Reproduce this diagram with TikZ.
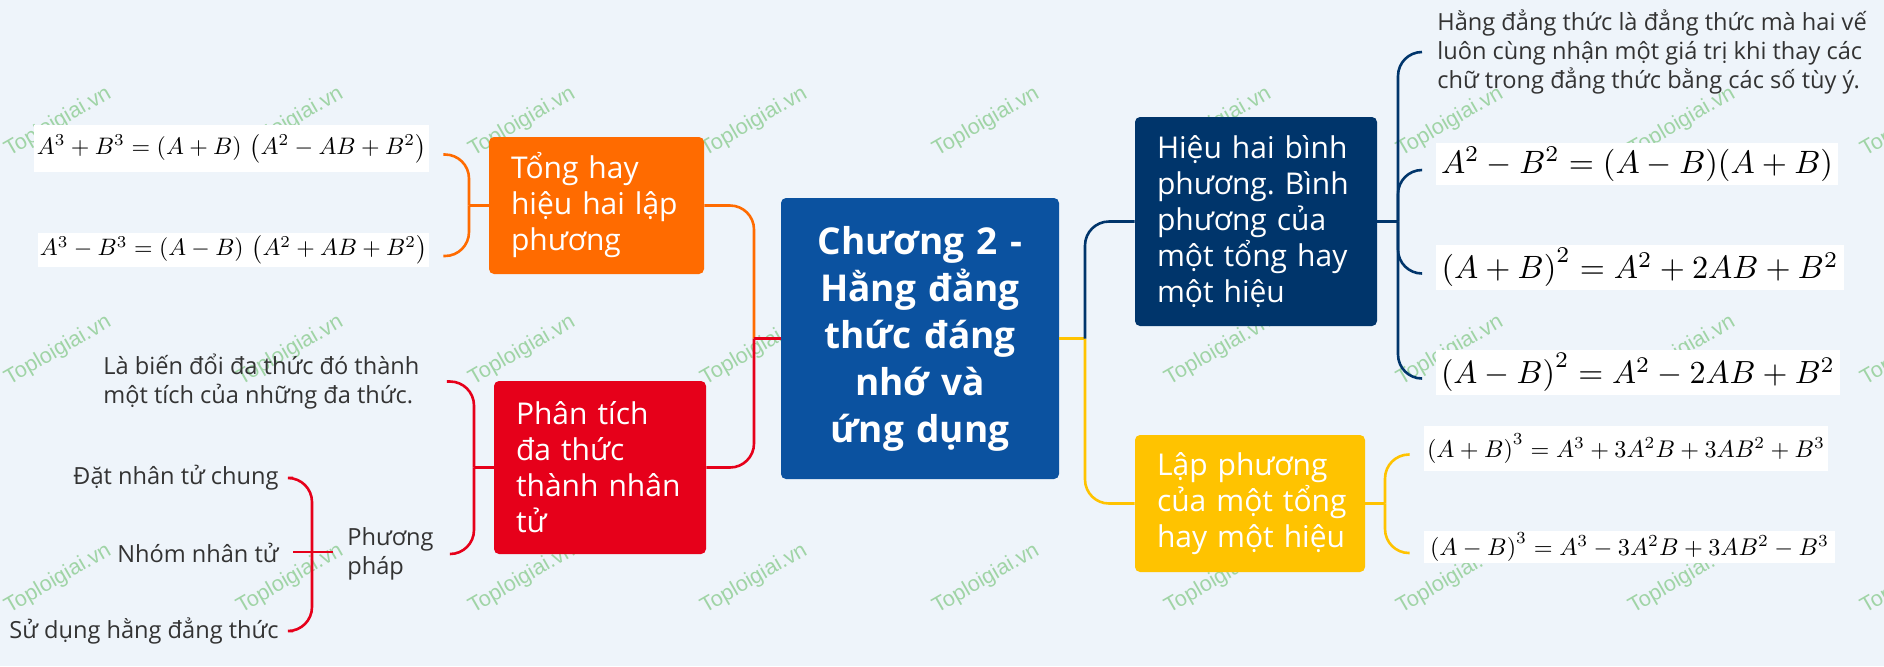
\documentclass[tikz,border=0pt]{standalone}
\usepackage{fontspec}
\usepackage{graphicx}
\setmainfont{Open Sans}
\newfontfamily\wmfont{Liberation Sans}
\definecolor{bgc}{HTML}{EEF4FA}
\definecolor{cOr}{HTML}{FF6B00}
\definecolor{cRed}{HTML}{E6001A}
\definecolor{cCen}{HTML}{0B52A0}
\definecolor{cNav}{HTML}{00356B}
\definecolor{cYel}{HTML}{FFC300}
\definecolor{cTxt}{HTML}{333333}
\definecolor{cWm}{RGB}{160,212,166}
\newcommand\fmla[2]{\resizebox{#1}{!}{$#2$}}
\frenchspacing
\begin{document}
\begin{tikzpicture}[x=0.5pt,y=-0.5pt,
  box/.style={rounded corners=2.5pt, inner xsep=11pt, inner ysep=0pt, text=white,
    align=left, font=\fontsize{15pt}{18pt}\selectfont},
  cenbox/.style={rounded corners=2.5pt, fill=cCen, inner xsep=7pt, inner ysep=0pt, text=white,
    align=center, text width=125pt, minimum width=139pt, minimum height=140.5pt,
    font=\fontsize{18.5pt}{23.5pt}\selectfont\bfseries},
  leaf/.style={inner sep=0pt, text=cTxt, font=\fontsize{11.8pt}{14.5pt}\selectfont},
  fml/.style={fill=white, inner sep=0pt},
  wm/.style={inner sep=0pt, text=cWm, rotate=30, font=\wmfont\fontsize{10.8pt}{12pt}\selectfont},
  ln/.style={line width=1.3pt},
  orl/.style={ln, draw=cOr},
  redl/.style={ln, draw=cRed},
  navl/.style={ln, draw=cNav},
  yell/.style={ln, draw=cYel},
  rcorn/.style={rounded corners=12pt}
]
\useasboundingbox[fill=bgc] (0,0) rectangle (1884,666);

% watermarks
\foreach \i in {0,...,8}{
  \foreach \j in {0,1,2}{
    \node[wm] (wm-\i-\j) at ({58+232*\i},{122+228.5*\j}) {Toploigiai.vn};
  }
}

% main boxes
\node[cenbox] (cen) at (920,338.5) {Chương 2 -\\Hằng đẳng\\thức đáng\\nhớ và\\ứng dụng};
\node[box, fill=cOr, text width=85.5pt, minimum width=107.5pt, minimum height=68.5pt] (orb) at (596.5,205.5)
  {\mbox{Tổng hay}\\\mbox{hiệu hai lập}\\\mbox{phương}};
\node[box, fill=cRed, text width=84pt, minimum width=106pt, minimum height=86.5pt] (rdb) at (600,467.5)
  {\mbox{Phân tích}\\\mbox{đa thức}\\\mbox{thành nhân}\\\mbox{tử}};
\node[box, fill=cNav, text width=99pt, minimum width=121pt, minimum height=104.5pt] (nvb) at (1256,221.5)
  {\mbox{Hiệu hai bình}\\\mbox{phương. Bình}\\\mbox{phương của}\\\mbox{một tổng hay}\\\mbox{một hiệu}};
\node[box, fill=cYel, text width=93pt, minimum width=115pt, minimum height=68.5pt] (ylb) at (1250,503.5)
  {\mbox{Lập phương}\\\mbox{của một tổng}\\\mbox{hay một hiệu}};

% formulas
\node[fml, minimum width=197.5pt, minimum height=23.5pt] (f1) at (231.5,148.5)
  {\fmla{194.5pt}{A^3+B^3=(A+B)\,\left(A^2-AB+B^2\right)}};
\node[fml, minimum width=195.5pt, minimum height=17pt] (f2) at (233.5,250)
  {\fmla{193.5pt}{A^3-B^3=(A-B)\,\left(A^2+AB+B^2\right)}};
\node[fml, minimum width=201pt, minimum height=21pt] (na) at (1637,164)
  {\fmla{196pt}{A^2-B^2=(A-B)(A+B)}};
\node[fml, minimum width=204pt, minimum height=22.5pt] (nb) at (1640,267.5)
  {\fmla{198.5pt}{{\left(A+B\right)}^2=A^2+2AB+B^2}};
\node[fml, minimum width=202pt, minimum height=22.5pt] (nc) at (1638,372.5)
  {\fmla{197pt}{{\left(A-B\right)}^2=A^2-2AB+B^2}};
\node[fml, minimum width=202pt, minimum height=22.5pt] (ya) at (1626,448.5)
  {\fmla{199pt}{{\left(A+B\right)}^3=A^3+3A^2B+3AB^2+B^3}};
\node[fml, minimum width=205.5pt, minimum height=16pt] (yb) at (1629.5,547)
  {\fmla{199.5pt}{{\left(A-B\right)}^3=A^3-3A^2B+3AB^2-B^3}};

% leaf texts
\node[leaf, anchor=west, align=left] (lab1) at (103,381.5)
  {Là biến đổi đa thức đó thành\\một tích của những đa thức.};
\node[leaf, anchor=west, align=left] (meth) at (347,554) {Phương\\pháp};
\node[leaf, anchor=east] (d1) at (279,478) {Đặt nhân tử chung};
\node[leaf, anchor=east] (d2) at (279,553) {Nhóm nhân tử};
\node[leaf, anchor=east] (d3) at (279,631) {Sử dụng hằng đẳng thức};
\node[leaf, anchor=west, align=left] (def) at (1437,52)
  {Hằng đẳng thức là đẳng thức mà hai vế\\luôn cùng nhận một giá trị khi thay các\\chữ trong đẳng thức bằng các số tùy ý.};

% junction coordinates
\coordinate (jL) at (754,338.5);
\coordinate (jRt) at (1085,338.5);
\coordinate (jO) at (469,205.5);
\coordinate (jR) at (474,467.5);
\coordinate (jM) at (312,552);
\coordinate (jN) at (1398,221.5);
\coordinate (jY) at (1385,503.5);

% trunk left
\draw[orl, rcorn] (orb.east) -| (jL);
\draw[redl] (cen.west) -- (jL);
\draw[redl, rcorn] (jL) |- (rdb.east);
% trunk right
\draw[yell] (cen.east) -- (jRt);
\draw[yell, rcorn] (jRt) |- (ylb.west);
\draw[navl, rcorn] (jRt) |- (nvb.west);

% orange bracket
\draw[orl] (jO) -- (orb.west);
\draw[orl, rcorn] (jO) |- ([shift={(7pt,-3pt)}]f1.east);
\draw[orl, rcorn] (jO) |- ([shift={(7pt,-3pt)}]f2.east);

% red bracket
\draw[redl] (jR) -- (rdb.west);
\draw[redl, rcorn] (jR) |- ([xshift=13.5pt]lab1.east);
\draw[redl, rcorn] (jR) |- ([xshift=8pt]meth.east);

% method bracket
\draw[redl] (jM) -- ([xshift=-7pt]jM -| meth.west);
\draw[redl] (jM) -- ([xshift=7pt]jM -| d2.east);
\draw[redl, rcorn] (jM) |- ([xshift=7pt]d1.east);
\draw[redl, rcorn] (jM) |- ([xshift=7pt]d3.east);

% navy bracket
\draw[navl] (nvb.east) -- (jN);
\draw[navl, rcorn] (jN) |- ([xshift=-7.5pt]def.west);
\draw[navl, rcorn] (jN) |- ([shift={(-7pt,-3pt)}]na.west);
\draw[navl, rcorn] (jN) |- ([shift={(-7pt,-3pt)}]nb.west);
\draw[navl, rcorn] (jN) |- ([shift={(-7pt,-3pt)}]nc.west);

% yellow bracket
\draw[yell] (ylb.east) -- (jY);
\draw[yell, rcorn] (jY) |- ([shift={(-7pt,-3pt)}]ya.west);
\draw[yell, rcorn] (jY) |- ([shift={(-7pt,-3pt)}]yb.west);
\end{tikzpicture}
\end{document}
